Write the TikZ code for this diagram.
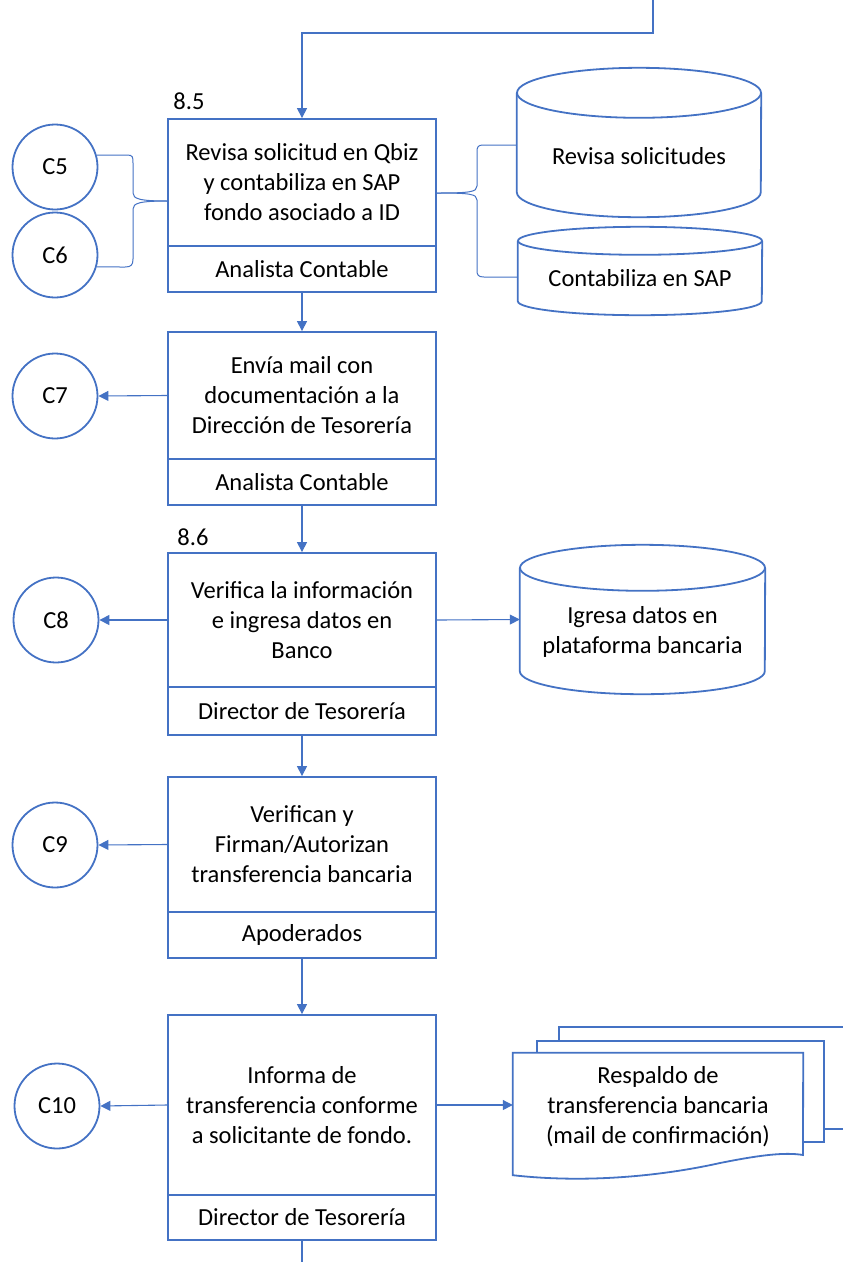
\documentclass[tikz,border=0pt]{standalone}
\usepackage{fontspec}
\setmainfont{Carlito}
\usetikzlibrary{arrows.meta,calc}
\definecolor{ob}{HTML}{4472C4}
\begin{document}
\begin{tikzpicture}[x=1pt,y=-1pt,
  shp/.style={draw=ob,line width=1.8pt},
  tf/.style={font=\fontsize{24.5}{30}\selectfont},
  boxmain/.style={shp,tf,fill=white,minimum width=268pt,align=center,inner sep=0pt},
  boxfoot/.style={boxmain,minimum height=46pt},
  circ/.style={shp,tf,circle,minimum size=85pt,inner sep=0pt},
  con/.style={draw=ob,line width=1.1pt,-{Triangle[length=10pt,width=10pt]}},
  lin/.style={draw=ob,line width=1.1pt},
  brc/.style={draw=ob,line width=1pt},
  txt/.style={tf,align=center,inner sep=0pt},
  ghost/.style={draw=none,inner sep=0pt}
]
\useasboundingbox (0,0) rectangle (843,1262);
\clip (0,0) rectangle (843,1262);

% ---------- process boxes ----------
\node[boxmain,minimum height=127pt] (b1) at (302,182.5) {Revisa solicitud en Qbiz\\y contabiliza en SAP\\fondo asociado a ID};
\node[boxfoot] (b1f) at (302,269) {Analista Contable};
\node[txt] (l85) at (189,101) {8.5};

\node[boxmain,minimum height=127pt] (b2) at (302,395.5) {Envía mail con\\documentación a la\\Dirección de Tesorería};
\node[boxfoot] (b2f) at (302,482) {Analista Contable};

\node[boxmain,minimum height=134pt] (b3) at (302,620) {Verifica la información\\e ingresa datos en\\Banco};
\node[boxfoot,minimum height=48pt] (b3f) at (302,711) {Director de Tesorería};
\node[txt] (l86) at (193,537) {8.6};

\node[boxmain,minimum height=135pt] (b4) at (302,844.5) {Verifican y\\Firman/Autorizan\\transferencia bancaria};
\node[boxfoot] (b4f) at (302,935) {Apoderados};

\node[boxmain,minimum height=180pt] (b5) at (302,1105) {Informa de\\transferencia conforme\\a solicitante de fondo.};
\node[boxfoot,minimum height=45pt] (b5f) at (302,1217.5) {Director de Tesorería};

% ---------- connectors between boxes ----------
\coordinate (top) at (653,0);
\coordinate (bend) at (653,33);
\draw[con] (top) -- (bend) -| (b1.north);
\draw[con] (b1f.south) -- (b2.north);
\draw[con] (b2f.south) -- (b3.north);
\draw[con] (b3f.south) -- (b4.north);
\draw[con] (b4f.south) -- (b5.north);
\coordinate (bottom) at (302,1262);
\draw[lin] (b5f.south) -- (bottom);

% ---------- circles ----------
\node[circ] (c5) at (55,167) {C5};
\node[circ] (c6) at (55,255) {C6};
\node[circ] (c7) at (55,396) {C7};
\node[circ] (c8) at (56,620) {C8};
\node[circ] (c9) at (55,845) {C9};
\node[circ] (c10) at (57,1106) {C10};

\draw[con] (b2.west) -- (c7.east);
\draw[con] (b3.west) -- (c8.east);
\draw[con] (b4.west) -- (c9.east);
\draw[con] (b5.west) -- (c10.east);

% ---------- left brace ----------
\coordinate (tipL) at (168,201);
\draw[brc] (c5.16) -- (127,155) .. controls (133,155) and (133,157) .. (133,163)
  -- (133,193) .. controls (133,199) and (140,201) .. (tipL);
\draw[brc] (tipL) .. controls (140,201) and (133,203) .. (133,209)
  -- (133,259) .. controls (133,265) and (131,267) .. (125,267) -- (c6.-16);

% ---------- cylinders ----------
\node[ghost,minimum width=244pt,minimum height=149pt] (cy1) at (639,142.5) {};
\draw[shp,fill=white] ([yshift=-25pt]cy1.north west) -- ([yshift=25pt]cy1.south west)
  arc[start angle=180,end angle=360,x radius=122pt,y radius=25pt]
  -- ([yshift=-25pt]cy1.north east);
\draw[shp] ([yshift=-25pt]cy1.north) ellipse[x radius=122pt,y radius=25pt];
\node[txt] (cy1t) at (639,156) {Revisa solicitudes};

\node[ghost,minimum width=244pt,minimum height=88pt] (cy2) at (640,271) {};
\draw[shp,fill=white] ([yshift=-14pt]cy2.north west) -- ([yshift=14pt]cy2.south west)
  arc[start angle=180,end angle=360,x radius=122pt,y radius=14pt]
  -- ([yshift=-14pt]cy2.north east);
\draw[shp] ([yshift=-14pt]cy2.north) ellipse[x radius=122pt,y radius=14pt];
\node[txt] (cy2t) at (640,278) {Contabiliza en SAP};

\node[ghost,minimum width=245pt,minimum height=149pt] (cy3) at (642.5,619.5) {};
\draw[shp,fill=white] ([yshift=-23pt]cy3.north west) -- ([yshift=23pt]cy3.south west)
  arc[start angle=180,end angle=360,x radius=122.5pt,y radius=23pt]
  -- ([yshift=-23pt]cy3.north east);
\draw[shp] ([yshift=-23pt]cy3.north) ellipse[x radius=122.5pt,y radius=23pt];
\node[txt] (cy3t) at (642.5,632) {Igresa datos en\\plataforma bancaria};

\draw[con] (b3.east) -- (cy3.west);

% ---------- right brace ----------
\coordinate (tipR) at (437,193);
\draw[brc] (cy1.west |- 0,145) -- (483,145) .. controls (478,145) and (477,147) .. (477,152)
  -- (477,186) .. controls (477,192) and (470,193) .. (tipR);
\draw[brc] (tipR) .. controls (470,193) and (477,194) .. (477,200)
  -- (477,270) .. controls (477,275) and (478,277) .. (484,277) -- (cy2.west |- 0,277);

% ---------- multi-document ----------
\draw[shp,fill=white] (559,1041) -- (559,1027) -- (852,1027) -- (852,1129) -- (824,1129);
\draw[shp,fill=white] (537,1053) -- (537,1041) -- (824,1041) -- (824,1142) -- (803,1142);
\node[ghost,minimum width=290pt,minimum height=122pt] (doc) at (658,1114) {};
\draw[shp,fill=white] (doc.north west) -- (doc.north east) -- (803,1155)
  .. controls (785,1152) and (760,1155) .. (720,1163)
  .. controls (680,1172) and (600,1185) .. (doc.south west) -- cycle;
\node[txt] (doct) at (658,1107) {Respaldo de\\transferencia bancaria\\(mail de confirmación)};

\draw[con] (b5.east) -- (b5.east -| doc.west);
\end{tikzpicture}
\end{document}
